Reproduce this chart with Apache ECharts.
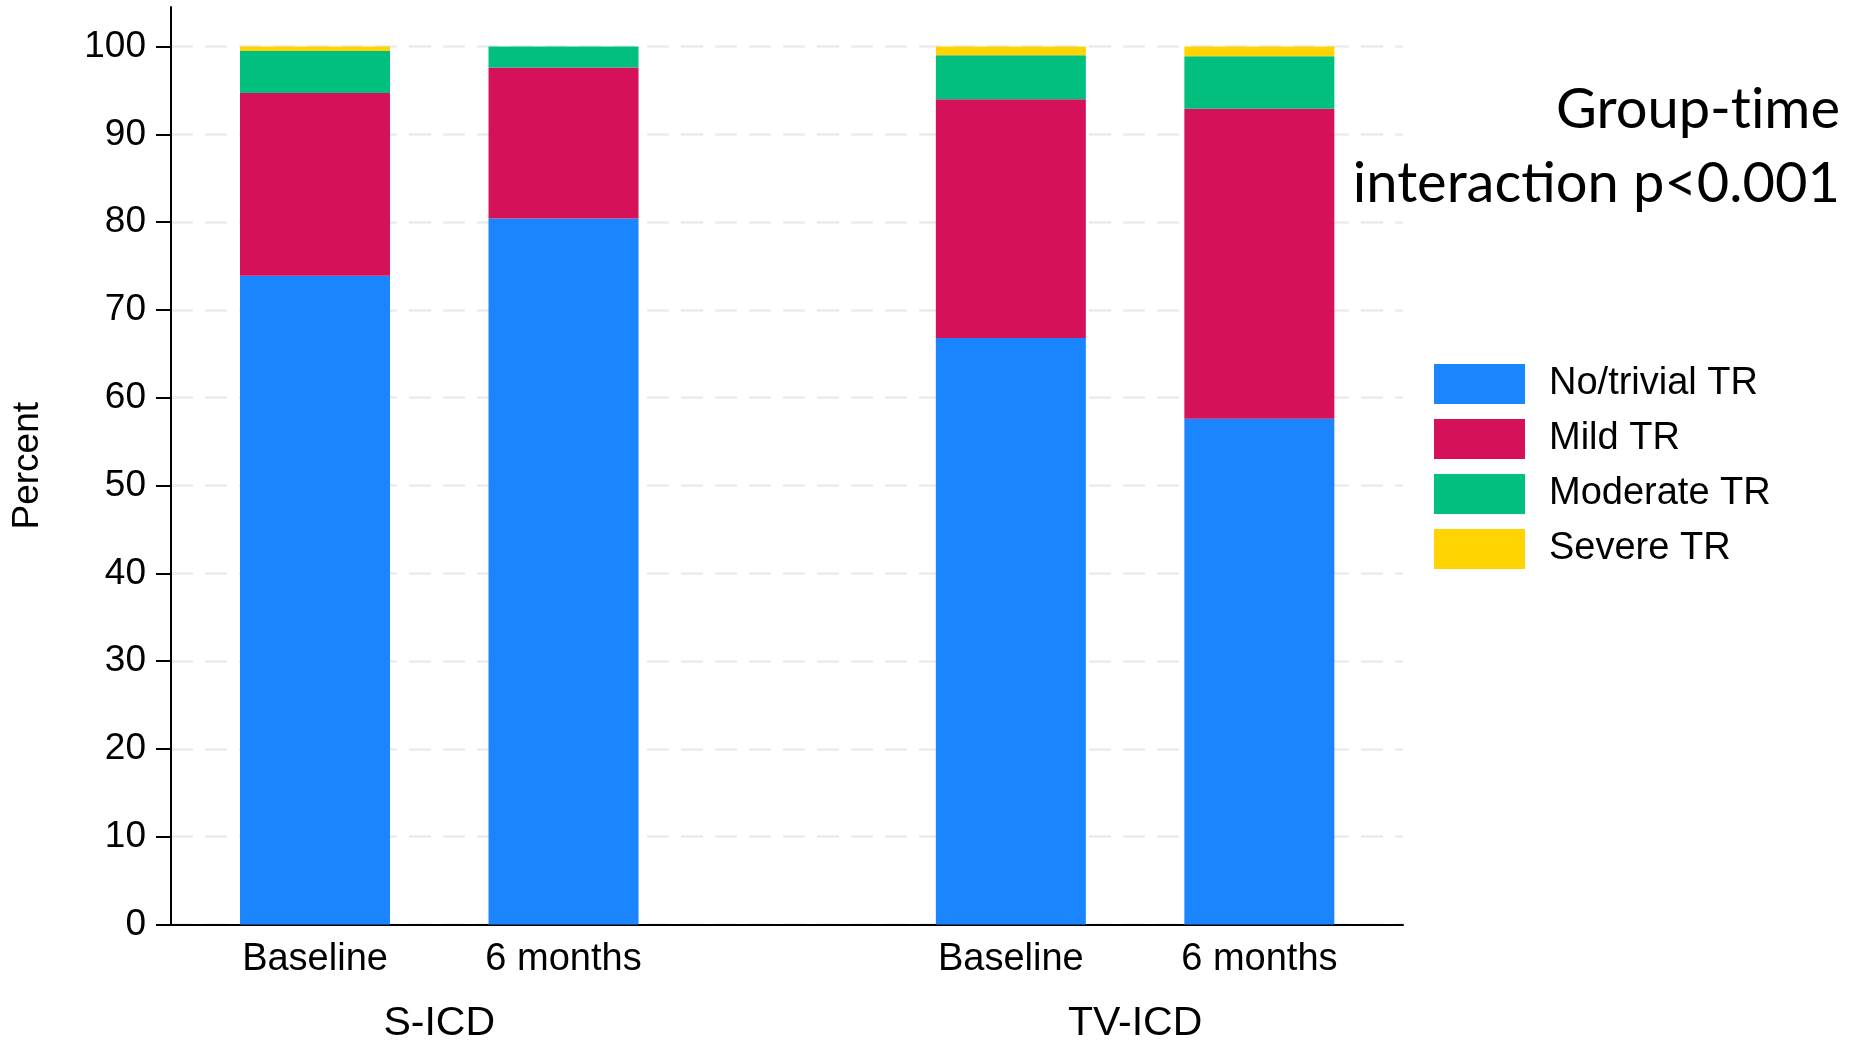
<!DOCTYPE html>
<html>
<head>
<meta charset="utf-8">
<script src="https://cdn.jsdelivr.net/npm/echarts@6/dist/echarts.min.js"></script>
<style>
html,body{margin:0;padding:0;background:#fff;}
#chart{width:1856px;height:1041px;}
</style>
</head>
<body>
<div id="chart"></div>
<script>
// ---- data ----
const groups = ['S-ICD', 'TV-ICD'];
const times = ['Baseline', '6 months'];
const seriesNames = ['No/trivial TR', 'Mild TR', 'Moderate TR', 'Severe TR'];
// order of bars: S-ICD Baseline, S-ICD 6 months, TV-ICD Baseline, TV-ICD 6 months
const noTrivialTR = [73.9, 80.4, 66.8, 57.6];
const mildTR      = [20.8, 17.2, 27.2, 35.3];
const moderateTR  = [4.8, 2.4, 5.0, 6.0];
const severeTR    = [0.5, 0.0, 1.0, 1.1];
const yTickValues = [0, 10, 20, 30, 40, 50, 60, 70, 80, 90, 100];
const annotation = ['Group-t\u200Cime', 'interaction p<0.001'];

// ---- layout (not data) ----
const colors = ['#1A85FF', '#D41159', '#00BF7F', '#FFD400'];
const GROUP_STEP = 2.8;     // distance between first bars of groups (in bar slots)
const X_MIN = 0.4205, X_MAX = 5.378, Y_MAX = 104.5;

const bars = [];
groups.forEach((g, gi) => times.forEach((t, ti) => {
  bars.push({ x: +(gi * GROUP_STEP + ti + 1).toFixed(4), group: g, time: t });
}));
const groupCenters = groups.map((g, gi) => {
  const xs = bars.filter(b => b.group === g).map(b => b.x);
  return +(xs.reduce((a, b) => a + b, 0) / xs.length).toFixed(4);
});

const allValues = [noTrivialTR, mildTR, moderateTR, severeTR];
const FONT = 'Liberation Sans, Arial, Helvetica, sans-serif';

const series = seriesNames.map((name, si) => ({
  name: name,
  type: 'bar',
  stack: 'total',
  barWidth: 150,
  itemStyle: { color: colors[si] },
  emphasis: { disabled: true },
  dimensions: ['pct', 'pos'],
  encode: { x: 'pos', y: 'pct' },
  data: bars.map((b, bi) => [allValues[si][bi], b.x])
}));

const chart = echarts.init(document.getElementById('chart'), null, { renderer: 'canvas' });
chart.setOption({
  animation: false,
  backgroundColor: '#ffffff',
  grid: { left: 171, right: 453, top: 7, bottom: 116.5, containLabel: false, outerBoundsMode: 'none' },
  legend: {
    orient: 'vertical',
    left: 1434,
    top: 364,
    padding: 0,
    itemWidth: 91,
    itemHeight: 40,
    itemGap: 15,
    icon: 'rect',
    data: seriesNames,
    textStyle: { fontFamily: FONT, fontSize: 38, color: '#000', padding: [0, 0, 0, 19] }
  },
  xAxis: [
    {
      type: 'value', min: X_MIN, max: X_MAX, position: 'bottom',
      axisLine: { show: true, onZero: false, lineStyle: { color: '#000', width: 2 } },
      axisTick: { show: false },
      splitLine: { show: false },
      axisLabel: {
        customValues: bars.map(b => b.x),
        margin: 16,
        fontFamily: FONT, fontSize: 38, color: '#000',
        formatter: v => { const b = bars.find(bb => Math.abs(bb.x - v) < 1e-6); return b ? b.time : ''; }
      }
    },
    {
      type: 'value', min: X_MIN, max: X_MAX, position: 'bottom',
      axisLine: { show: false },
      axisTick: { show: false },
      splitLine: { show: false },
      axisLabel: {
        customValues: groupCenters,
        margin: 79,
        fontFamily: FONT, fontSize: 41, color: '#000',
        formatter: v => { const i = groupCenters.findIndex(c => Math.abs(c - v) < 1e-6); return i >= 0 ? groups[i] : ''; }
      }
    }
  ],
  yAxis: {
    type: 'value', min: 0, max: Y_MAX,
    name: 'Percent', nameLocation: 'middle', nameGap: 125,
    nameTextStyle: { fontFamily: FONT, fontSize: 37, color: '#000' },
    axisLine: { show: true, lineStyle: { color: '#000', width: 2 } },
    axisTick: { show: true, length: 15, customValues: yTickValues, lineStyle: { color: '#000', width: 2 } },
    axisLabel: { customValues: yTickValues, margin: 25, padding: [4, 0, 0, 0], fontFamily: FONT, fontSize: 37, color: '#000' },
    splitLine: { show: true, lineStyle: { color: '#ebebeb', width: 2.5, type: [22, 12] } }
  },
  graphic: [
    { type: 'text', x: 1840, y: 110, style: { text: annotation[0], align: 'right', verticalAlign: 'middle', font: '56px Lato', fill: '#000' } },
    { type: 'text', x: 1840, y: 184, style: { text: annotation[1], align: 'right', verticalAlign: 'middle', font: '56px Lato', fill: '#000' } }
  ],
  series: series
});
</script>
</body>
</html>
